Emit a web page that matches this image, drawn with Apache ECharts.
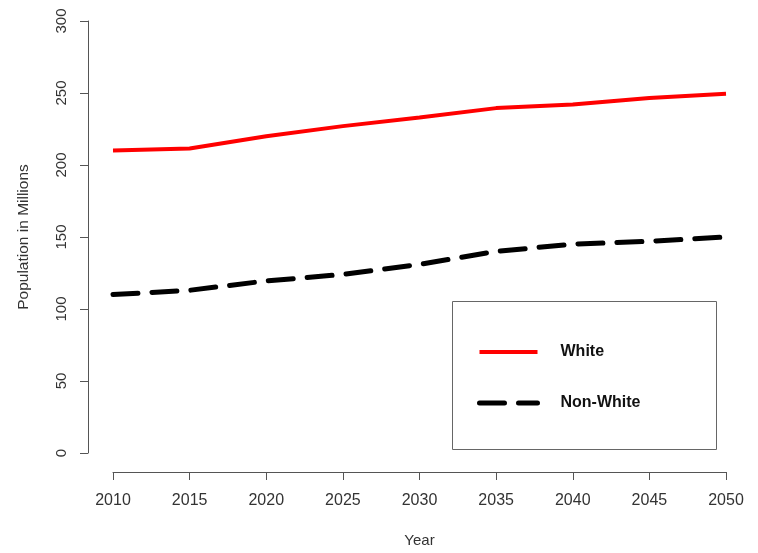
<!DOCTYPE html>
<html>
<head>
<meta charset="utf-8">
<script src="https://cdn.jsdelivr.net/npm/echarts@6/dist/echarts.min.js"></script>
<style>
html,body{margin:0;padding:0;background:#fff;}
#chart{width:758px;height:553px;}
</style>
</head>
<body>
<div id="chart"></div>
<script>
const years = [2010, 2015, 2020, 2025, 2030, 2035, 2040, 2045, 2050];
const whitePop = [210, 211.5, 220, 227, 233, 239.5, 242, 246.5, 249.5];
const nonWhitePop = [110, 113, 119.5, 124, 131, 140, 145, 147, 150];
const seriesNames = ['White', 'Non-White'];

const font = '"Liberation Sans", Arial, sans-serif';
const chart = echarts.init(document.getElementById('chart'));
chart.setOption({
  backgroundColor: '#fff',
  animation: false,
  grid: {left: 113, right: 32, top: 21, bottom: 98},
  xAxis: {
    type: 'value', min: 2010, max: 2050, interval: 5,
    offset: 19,
    name: 'Year', nameLocation: 'middle', nameGap: 61,
    nameTextStyle: {fontFamily: font, fontSize: 15, color: '#333'},
    axisLine: {show: true, onZero: false, lineStyle: {color: '#555', width: 1}},
    axisTick: {show: true, length: 8, lineStyle: {color: '#555'}},
    axisLabel: {fontFamily: font, fontSize: 16, color: '#333', margin: 21, formatter: v => String(v)},
    splitLine: {show: false}
  },
  yAxis: {
    type: 'value', min: 0, max: 300, interval: 50,
    offset: 25,
    name: 'Population in Millions', nameLocation: 'middle', nameGap: 56, nameRotate: 90,
    nameTextStyle: {fontFamily: font, fontSize: 15.5, color: '#333'},
    axisLine: {show: true, onZero: false, lineStyle: {color: '#555', width: 1}},
    axisTick: {show: true, length: 8, lineStyle: {color: '#555'}},
    axisLabel: {fontFamily: font, fontSize: 15, color: '#333', rotate: 90, margin: 19},
    splitLine: {show: false}
  },
  legend: {
    orient: 'vertical', left: 477, top: 344, padding: 0,
    itemWidth: 58, itemHeight: 14, itemGap: 35,
    itemStyle: {opacity: 0},
    textStyle: {fontFamily: font, fontSize: 16, fontWeight: 'bold', color: '#111', padding: [0, 0, 0, 18]},
    data: [
      {name: seriesNames[0], lineStyle: {width: 4}},
      {name: seriesNames[1], lineStyle: {width: 5}}
    ]
  },
  graphic: [{
    type: 'rect',
    shape: {x: 452.5, y: 301.5, width: 264, height: 148},
    style: {fill: 'none', stroke: '#666', lineWidth: 1}
  }],
  series: [
    {
      name: seriesNames[0], type: 'line', symbol: 'none',
      data: years.map((y, i) => [y, whitePop[i]]),
      lineStyle: {color: '#ff0000', width: 4},
      itemStyle: {color: '#ff0000'}
    },
    {
      name: seriesNames[1], type: 'line', symbol: 'none',
      data: years.map((y, i) => [y, nonWhitePop[i]]),
      lineStyle: {color: '#000', width: 5, type: [25, 14], cap: 'round'},
      itemStyle: {color: '#000'}
    }
  ]
});
</script>
</body>
</html>
